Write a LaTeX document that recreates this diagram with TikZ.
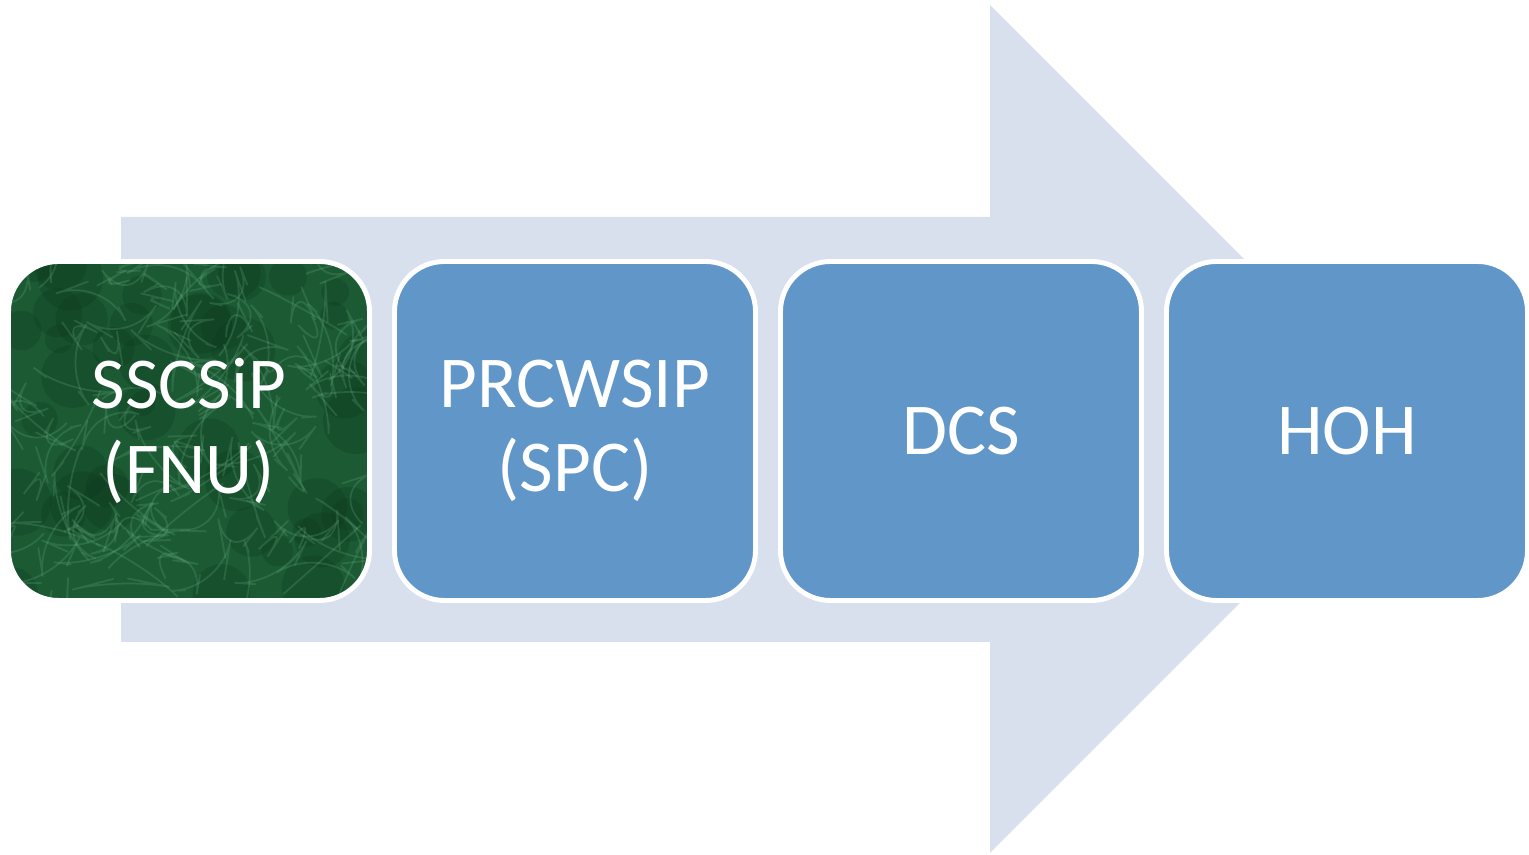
\documentclass[tikz,border=0pt]{standalone}
\usepackage{fontspec}
\setmainfont{Carlito}
\usetikzlibrary{positioning, calc}

\definecolor{arrowgray}{HTML}{D9E0ED}
\definecolor{boxblue}{HTML}{6196C8}
\definecolor{marble}{HTML}{1C5A34}
\definecolor{marbledark}{HTML}{0E3A1E}
\definecolor{marblelight}{HTML}{6FB98A}

\begin{document}
\begin{tikzpicture}[
    node distance=0.25cm,
    every node/.style={font=\fontsize{20.8}{24}\selectfont, align=center, text=white},
    stage/.style={draw=white, line width=1.4pt, rounded corners=0.5cm, outer sep=0pt,
                  minimum width=3.61cm, minimum height=3.39cm, fill=boxblue},
    marblefill/.style={fill=marble, path picture={
        \pgfmathsetseed{17}
        \foreach \k in {1,...,45}{
            \fill[marbledark, opacity=0.3]
                ($(path picture bounding box.south west)+({3.6*rnd},{3.4*rnd})$) circle ({0.12+0.22*rnd});
        }
        \foreach \k in {1,...,140}{
            \draw[marblelight, opacity=0.22, line width=0.5pt, line cap=round]
                ($(path picture bounding box.south west)+({3.6*rnd},{3.4*rnd})$) -- ++({0.4*rand},{0.4*rand}) -- ++({0.3*rand},{0.3*rand});
        }
    }}
]
\useasboundingbox (0,0) rectangle (15.29,8.55);

% big arrow behind the stages
\fill[arrowgray] (1.21,2.13) -- (9.90,2.13) -- (9.90,0.02) -- (14.14,4.26)
    -- (9.90,8.50) -- (9.90,6.38) -- (1.21,6.38) -- cycle;

\node[stage, marblefill] (fnu) at (1.89,4.24) {SSCSiP\\(FNU)};
\node[stage, right=of fnu] (spc) {PRCWSIP\\(SPC)};
\node[stage, right=of spc] (dcs) {DCS};
\node[stage, right=of dcs] (hoh) {HOH};
\end{tikzpicture}
\end{document}
